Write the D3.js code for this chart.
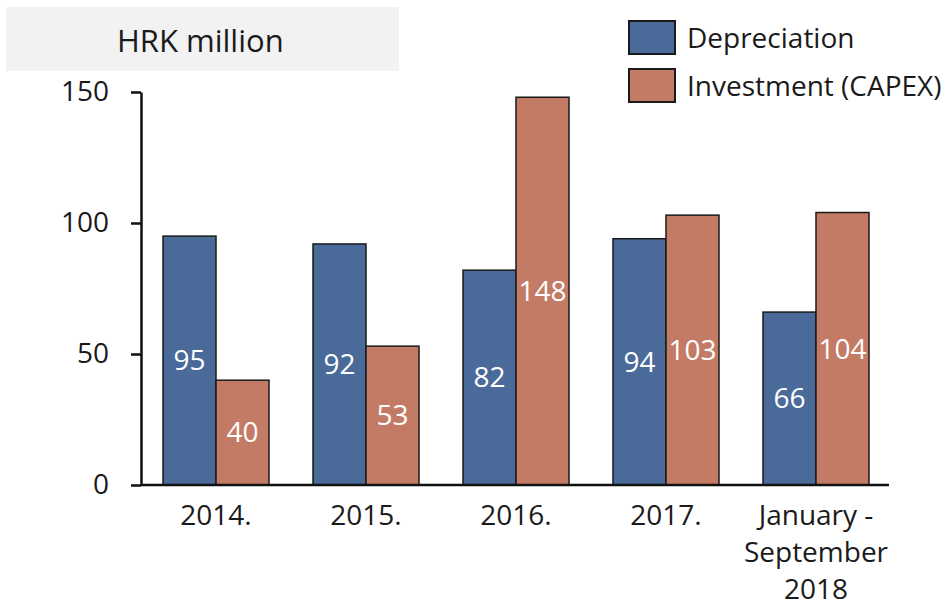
<!DOCTYPE html>
<html>
<head>
<meta charset="utf-8">
<script src="https://cdn.jsdelivr.net/npm/d3@7"></script>
<style>
  body { margin: 0; background: #fff; }
  text { font-family: "Open Sans", sans-serif; fill: #1a1a1a; }
  .domain, .tick line { stroke: #111; stroke-width: 2.5; }
</style>
</head>
<body>
<div id="chart"></div>
<script>
// data
var categories = ["2014.", "2015.", "2016.", "2017.", "January - September 2018"];
var categoryLines = [["2014."], ["2015."], ["2016."], ["2017."], ["January -", "September", "2018"]];
var seriesNames = ["Depreciation", "Investment (CAPEX)"];
var depreciation = [95, 92, 82, 94, 66];
var capex = [40, 53, 148, 103, 104];
var yTicks = [0, 50, 100, 150];
var colors = ["#4a6a99", "#c47b66"];

var margin = {top: 92, right: 55, bottom: 119, left: 141},
    width = 946 - margin.left - margin.right,
    height = 604 - margin.top - margin.bottom;

var svgRoot = d3.select("#chart")
  .append("svg")
    .attr("width", 946)
    .attr("height", 604);

var svg = svgRoot.append("g")
    .attr("transform", "translate(" + margin.left + "," + margin.top + ")");

var x = d3.scaleBand()
  .domain(categories)
  .range([0, width])
  .paddingInner(0.2933)
  .paddingOuter(0.1467);

var xSub = d3.scaleBand()
  .domain(seriesNames)
  .range([0, x.bandwidth()]);

var y = d3.scaleLinear()
  .domain([0, 150])
  .range([height, 0]);

var rows = categories.map(function(c, i) {
  return {cat: c, lines: categoryLines[i], values: [depreciation[i], capex[i]]};
});

// bars
var groups = svg.append("g")
  .selectAll("g")
  .data(rows)
  .enter()
  .append("g")
    .attr("transform", function(d) { return "translate(" + x(d.cat) + ",0)"; });

groups.selectAll("rect")
  .data(function(d) { return d.values.map(function(v, j) { return {name: seriesNames[j], v: v, j: j}; }); })
  .enter()
  .append("rect")
    .attr("x", function(d) { return xSub(d.name); })
    .attr("y", function(d) { return y(d.v); })
    .attr("width", xSub.bandwidth())
    .attr("height", function(d) { return height - y(d.v); })
    .style("fill", function(d) { return colors[d.j]; })
    .style("stroke", "#1a1a1a")
    .style("stroke-width", 1.5);

groups.selectAll("text.val")
  .data(function(d) { return d.values.map(function(v, j) { return {name: seriesNames[j], v: v}; }); })
  .enter()
  .append("text")
    .attr("class", "val")
    .attr("x", function(d) { return xSub(d.name) + xSub.bandwidth() / 2; })
    .attr("y", function(d) { return (y(d.v) + height) / 2; })
    .attr("dy", "0.35em")
    .attr("text-anchor", "middle")
    .style("fill", "#fff")
    .style("font-size", "28px")
    .text(function(d) { return d.v; });

// axes
svg.append("g")
  .call(d3.axisLeft(y).tickValues(yTicks).tickSize(10).tickPadding(22).tickSizeOuter(0))
  .call(function(g) {
    g.selectAll("text").style("font-size", "28px").style("fill", "#1a1a1a");
  });

svg.append("line")
  .attr("x1", 0)
  .attr("x2", width - 2)
  .attr("y1", height)
  .attr("y2", height)
  .style("stroke", "#111")
  .style("stroke-width", 2.5);

var xl = svg.append("g")
  .selectAll("text")
  .data(rows)
  .enter()
  .append("text")
    .attr("text-anchor", "middle")
    .attr("x", function(d) { return x(d.cat) + x.bandwidth() / 2; })
    .attr("y", height + 40)
    .style("font-size", "28px");

xl.selectAll("tspan")
  .data(function(d) { return d.lines; })
  .enter()
  .append("tspan")
    .attr("x", function() { return d3.select(this.parentNode).attr("x"); })
    .attr("dy", function(d, i) { return i === 0 ? 0 : 37; })
    .text(function(d) { return d; });

// title box
svgRoot.append("rect")
  .attr("x", 6)
  .attr("y", 7)
  .attr("width", 393)
  .attr("height", 64)
  .style("fill", "#f2f2f2");

svgRoot.append("text")
  .attr("x", 117)
  .attr("y", 52)
  .style("font-size", "31px")
  .text("HRK million");

// legend
var legend = svgRoot.append("g")
  .selectAll("g")
  .data(seriesNames)
  .enter()
  .append("g")
    .attr("transform", function(d, i) { return "translate(629," + (21 + i * 48) + ")"; });

legend.append("rect")
  .attr("width", 46)
  .attr("height", 33)
  .style("fill", function(d, i) { return colors[i]; })
  .style("stroke", "#1a1a1a")
  .style("stroke-width", 2);

legend.append("text")
  .attr("x", 58)
  .attr("y", 17)
  .attr("dy", "0.35em")
  .style("font-size", "28px")
  .text(function(d) { return d; });
</script>
</body>
</html>
